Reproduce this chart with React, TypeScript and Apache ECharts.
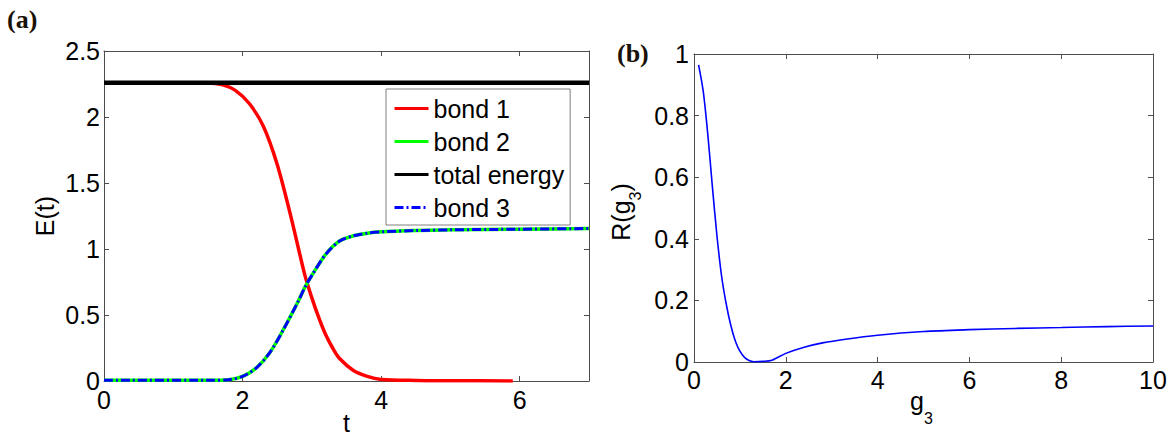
import React, { useEffect, useRef } from 'react';
import * as echarts from 'echarts';

const FONT = '"Liberation Sans", Arial, Helvetica, sans-serif';
const SERIF = '"Liberation Serif", "Times New Roman", serif';

// ---------- Panel (a): energies vs time ----------
const tTicks = [0, 2, 4, 6];
const tMax = 7;
const eTicks = [0, 0.5, 1, 1.5, 2, 2.5];

const bond1T = [0, 1.5, 1.7, 1.9, 2.1, 2.3, 2.5, 2.7, 2.9, 3.0, 3.1, 3.2, 3.3, 3.4, 3.6, 3.8, 4.0, 4.5, 5.0, 5.9];
const bond1E = [2.26, 2.258, 2.245, 2.2, 2.1, 1.93, 1.64, 1.24, 0.8, 0.63, 0.48, 0.35, 0.25, 0.17, 0.08, 0.035, 0.012, 0.004, 0.002, 0];

const bond2T = [0, 1.5, 1.8, 2.0, 2.2, 2.4, 2.6, 2.8, 2.9, 3.0, 3.2, 3.4, 3.6, 3.8, 4.0, 4.5, 5.0, 6.0, 7.0];
const bond2E = [0.005, 0.005, 0.01, 0.035, 0.1, 0.22, 0.4, 0.6, 0.71, 0.8, 0.96, 1.06, 1.1, 1.12, 1.13, 1.14, 1.145, 1.15, 1.155];

const bond3T = [0, 1.5, 1.8, 2.0, 2.2, 2.4, 2.6, 2.8, 2.9, 3.0, 3.2, 3.4, 3.6, 3.8, 4.0, 4.5, 5.0, 6.0, 7.0];
const bond3E = [0.005, 0.005, 0.01, 0.035, 0.1, 0.22, 0.4, 0.6, 0.71, 0.8, 0.96, 1.06, 1.1, 1.12, 1.13, 1.14, 1.145, 1.15, 1.155];

const totalT = [0, 7];
const totalE = [2.26, 2.26];

const legendNames = ['bond 1', 'bond 2', 'total energy', 'bond 3'];

// ---------- Panel (b): R(g3) ----------
const g3Ticks = [0, 2, 4, 6, 8, 10];
const rTicks = [0, 0.2, 0.4, 0.6, 0.8, 1];
const g3Values = [0.1, 0.2, 0.3, 0.4, 0.5, 0.6, 0.7, 0.8, 0.9, 1.0, 1.1, 1.2, 1.3, 1.5, 1.7, 2.0, 2.4, 2.8, 3.3, 4.0, 5.0, 6.0, 7.0, 8.0, 9.0, 10.0];
const rValues = [0.965, 0.88, 0.74, 0.57, 0.41, 0.28, 0.19, 0.12, 0.068, 0.035, 0.015, 0.005, 0.001, 0.002, 0.006, 0.028, 0.048, 0.062, 0.074, 0.087, 0.099, 0.105, 0.109, 0.112, 0.115, 0.117];

const zip = (xs: number[], ys: number[]) => xs.map((x, i) => [x, ys[i]]);

const AXIS_COLOR = '#4d4d4d';

function valueAxis(extra: any) {
  return {
    type: 'value',
    axisLine: { show: true, onZero: false, lineStyle: { color: AXIS_COLOR, width: 1 } },
    axisTick: { show: true, inside: true, length: 5, lineStyle: { color: AXIS_COLOR, width: 1 } },
    splitLine: { show: false },
    axisLabel: { show: true, color: '#000', fontSize: 25, fontFamily: FONT, margin: 5 },
    ...extra,
  };
}

function ticksCfg(ticks: number[], max?: number) {
  return {
    min: ticks[0],
    max: max !== undefined ? max : ticks[ticks.length - 1],
    interval: ticks[1] - ticks[0],
  };
}

export default function App() {
  const ref = useRef<HTMLDivElement>(null);

  useEffect(() => {
    if (!ref.current) return;
    const chart = echarts.init(ref.current, null, { renderer: 'svg' });
    const labelFmt = (ticks: number[]) => (v: number) =>
      ticks.some((t) => Math.abs(t - v) < 1e-9) ? String(Math.round(v * 100) / 100) : '';

    const option: any = {
      animation: false,
      backgroundColor: '#ffffff',
      grid: [
        { left: 104, top: 51, width: 485, height: 330, containLabel: false },
        { left: 694, top: 54, width: 459, height: 308, containLabel: false },
      ],
      xAxis: [
        valueAxis({
          gridIndex: 0, position: 'bottom', ...ticksCfg(tTicks, tMax),
          axisLabel: { show: true, color: '#000', fontSize: 25, fontFamily: FONT, margin: 6, formatter: labelFmt(tTicks) },
        }),
        valueAxis({ gridIndex: 0, position: 'top', ...ticksCfg(tTicks, tMax), axisLabel: { show: false } }),
        valueAxis({
          gridIndex: 1, position: 'bottom', ...ticksCfg(g3Ticks),
          axisLabel: { show: true, color: '#000', fontSize: 25, fontFamily: FONT, margin: 5, formatter: labelFmt(g3Ticks) },
        }),
        valueAxis({ gridIndex: 1, position: 'top', ...ticksCfg(g3Ticks), axisLabel: { show: false } }),
      ],
      yAxis: [
        valueAxis({
          gridIndex: 0, position: 'left', ...ticksCfg(eTicks),
          axisLabel: { show: true, color: '#000', fontSize: 25, fontFamily: FONT, margin: 4, formatter: labelFmt(eTicks) },
        }),
        valueAxis({ gridIndex: 0, position: 'right', ...ticksCfg(eTicks), axisLabel: { show: false } }),
        valueAxis({
          gridIndex: 1, position: 'left', ...ticksCfg(rTicks),
          axisLabel: { show: true, color: '#000', fontSize: 25, fontFamily: FONT, margin: 5, formatter: labelFmt(rTicks) },
        }),
        valueAxis({ gridIndex: 1, position: 'right', ...ticksCfg(rTicks), axisLabel: { show: false } }),
      ],
      legend: {
        show: true,
        data: legendNames,
        orient: 'vertical',
        left: 386,
        top: 89,
        itemWidth: 34,
        itemHeight: 14,
        itemGap: 8,
        padding: [7, 6, 5, 7],
        borderColor: '#808080',
        borderWidth: 1,
        backgroundColor: '#ffffff',
        selectedMode: false,
        itemStyle: { opacity: 0, borderWidth: 0 },
        lineStyle: { width: 3 },
        textStyle: { fontSize: 25, fontFamily: FONT, color: '#000' },
      },
      series: [
        {
          name: legendNames[0], type: 'line', xAxisIndex: 0, yAxisIndex: 0,
          data: zip(bond1T, bond1E), symbol: 'none', smooth: 0.3,
          lineStyle: { color: '#ff0000', width: 3.5 }, itemStyle: { color: '#ff0000' },
        },
        {
          name: legendNames[1], type: 'line', xAxisIndex: 0, yAxisIndex: 0,
          data: zip(bond2T, bond2E), symbol: 'none', smooth: 0.3,
          lineStyle: { color: '#00ff00', width: 3.5 }, itemStyle: { color: '#00ff00' },
        },
        {
          name: legendNames[2], type: 'line', xAxisIndex: 0, yAxisIndex: 0,
          data: zip(totalT, totalE), symbol: 'none',
          lineStyle: { color: '#000000', width: 4.5 }, itemStyle: { color: '#000000' },
        },
        {
          name: legendNames[3], type: 'line', xAxisIndex: 0, yAxisIndex: 0,
          data: zip(bond3T, bond3E), symbol: 'none', smooth: 0.3,
          lineStyle: { color: '#0000ff', width: 3, type: [9, 3, 2, 3] }, itemStyle: { color: '#0000ff' },
        },
        {
          name: 'R(g3)', type: 'line', xAxisIndex: 2, yAxisIndex: 2,
          data: zip(g3Values, rValues), symbol: 'none', smooth: 0.3,
          lineStyle: { color: '#0000ff', width: 1.6 }, itemStyle: { color: '#0000ff' },
        },
      ],
      graphic: [
        {
          type: 'text', x: 7, y: 19,
          style: { text: '(a)', font: `bold 26px ${SERIF}`, fill: '#1a1208', textAlign: 'left', textVerticalAlign: 'middle' },
        },
        {
          type: 'text', x: 617, y: 53,
          style: { text: '(b)', font: `bold 26px ${SERIF}`, fill: '#1a1208', textAlign: 'left', textVerticalAlign: 'middle' },
        },
        {
          type: 'text', x: 346.5, y: 423,
          style: { text: 't', font: `25px ${FONT}`, fill: '#000', textAlign: 'center', textVerticalAlign: 'middle' },
        },
        {
          type: 'group', x: 44.5, y: 216, rotation: Math.PI / 2,
          children: [
            {
              type: 'text', x: 0, y: 0,
              style: { text: 'E(t)', font: `25px ${FONT}`, fill: '#000', textAlign: 'center', textVerticalAlign: 'middle' },
            },
          ],
        },
        {
          type: 'text', x: 910, y: 401,
          style: { text: 'g', font: `25px ${FONT}`, fill: '#000', textAlign: 'left', textVerticalAlign: 'middle' },
        },
        {
          type: 'text', x: 924, y: 418,
          style: { text: '3', font: `16px ${FONT}`, fill: '#000', textAlign: 'left', textVerticalAlign: 'middle' },
        },
        {
          type: 'group', x: 620.5, y: 212, rotation: Math.PI / 2,
          children: [
            {
              type: 'text', x: -28.75, y: 0,
              style: { text: 'R(g', font: `25px ${FONT}`, fill: '#000', textAlign: 'left', textVerticalAlign: 'middle' },
            },
            {
              type: 'text', x: 11.5, y: 15,
              style: { text: '3', font: `16px ${FONT}`, fill: '#000', textAlign: 'left', textVerticalAlign: 'middle' },
            },
            {
              type: 'text', x: 20.4, y: 0,
              style: { text: ')', font: `25px ${FONT}`, fill: '#000', textAlign: 'left', textVerticalAlign: 'middle' },
            },
          ],
        },
      ],
    };

    chart.setOption(option);
    return () => {
      chart.dispose();
    };
  }, []);

  return (
    <div
      ref={ref}
      style={{ position: 'absolute', left: 0, top: 0, width: 1172, height: 438, background: '#fff' }}
    />
  );
}
